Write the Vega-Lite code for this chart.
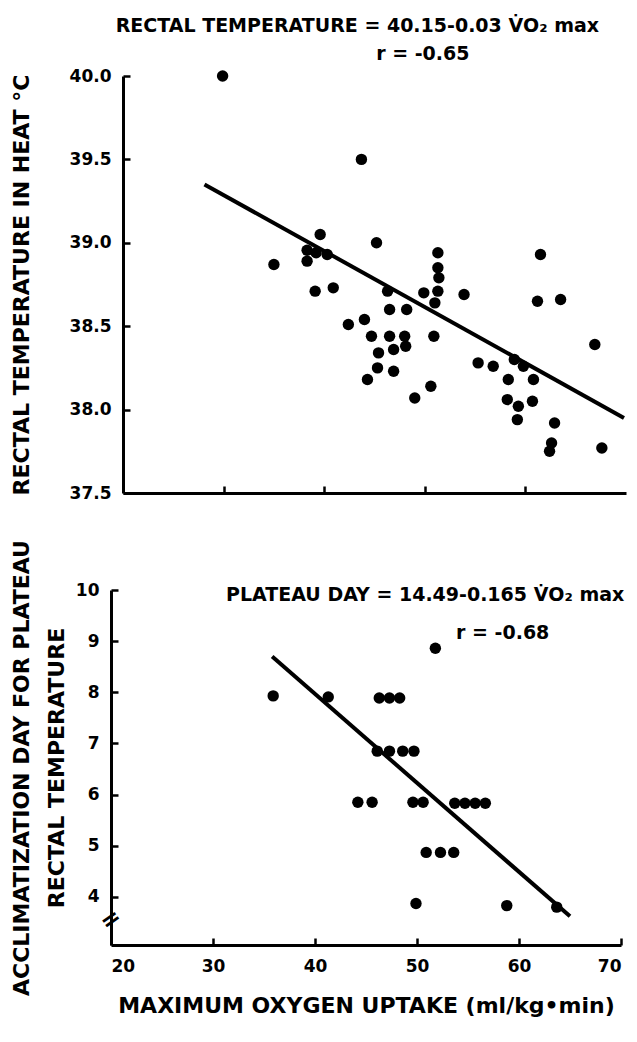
{
  "$schema": "https://vega.github.io/schema/vega-lite/v6.json",
  "padding": {"top": 16, "left": 9, "right": 5, "bottom": 5},
  "background": "white",
  "spacing": 38,
  "config": {
    "view": {"stroke": null},
    "font": "DejaVu Sans",
    "text": {"font": "DejaVu Sans", "fontWeight": "bold", "fontSize": 19, "color": "black", "align": "center", "baseline": "middle"},
    "axis": {
      "grid": false,
      "domainColor": "black",
      "domainWidth": 3,
      "tickColor": "black",
      "tickWidth": 2.5,
      "tickSize": -7,
      "labelColor": "black",
      "labelFont": "DejaVu Sans",
      "labelFontWeight": "bold",
      "labelFontSize": 17,
      "titleColor": "black",
      "titleFont": "DejaVu Sans",
      "titleFontWeight": "bold",
      "titleFontSize": 22
    }
  },
  "datasets": {
    "top": [
      {"vo2": 29.9, "temp": 40.0},
      {"vo2": 43.7, "temp": 39.5},
      {"vo2": 39.6, "temp": 39.05},
      {"vo2": 45.2, "temp": 39.0},
      {"vo2": 38.3, "temp": 38.955},
      {"vo2": 39.2, "temp": 38.94},
      {"vo2": 40.3, "temp": 38.93},
      {"vo2": 38.3, "temp": 38.89},
      {"vo2": 35.0, "temp": 38.87},
      {"vo2": 39.1, "temp": 38.71},
      {"vo2": 40.9, "temp": 38.73},
      {"vo2": 51.3, "temp": 38.94},
      {"vo2": 51.3, "temp": 38.85},
      {"vo2": 51.4, "temp": 38.79},
      {"vo2": 46.3, "temp": 38.71},
      {"vo2": 49.9, "temp": 38.7},
      {"vo2": 51.3, "temp": 38.71},
      {"vo2": 51.0, "temp": 38.64},
      {"vo2": 53.9, "temp": 38.69},
      {"vo2": 61.5, "temp": 38.93},
      {"vo2": 61.2, "temp": 38.65},
      {"vo2": 63.5, "temp": 38.66},
      {"vo2": 46.5, "temp": 38.6},
      {"vo2": 48.2, "temp": 38.6},
      {"vo2": 46.5, "temp": 38.44},
      {"vo2": 48.0, "temp": 38.44},
      {"vo2": 46.9, "temp": 38.36},
      {"vo2": 48.1, "temp": 38.38},
      {"vo2": 45.4, "temp": 38.34},
      {"vo2": 50.9, "temp": 38.44},
      {"vo2": 45.3, "temp": 38.25},
      {"vo2": 46.9, "temp": 38.23},
      {"vo2": 49.0, "temp": 38.07},
      {"vo2": 50.6, "temp": 38.14},
      {"vo2": 55.3, "temp": 38.28},
      {"vo2": 56.8, "temp": 38.26},
      {"vo2": 58.9, "temp": 38.3},
      {"vo2": 59.8, "temp": 38.26},
      {"vo2": 58.3, "temp": 38.18},
      {"vo2": 60.8, "temp": 38.18},
      {"vo2": 58.2, "temp": 38.06},
      {"vo2": 59.3, "temp": 38.02},
      {"vo2": 59.2, "temp": 37.94},
      {"vo2": 60.7, "temp": 38.05},
      {"vo2": 62.9, "temp": 37.92},
      {"vo2": 66.9, "temp": 38.39},
      {"vo2": 62.6, "temp": 37.8},
      {"vo2": 62.4, "temp": 37.75},
      {"vo2": 67.6, "temp": 37.77},
      {"vo2": 42.4, "temp": 38.51},
      {"vo2": 44.0, "temp": 38.54},
      {"vo2": 44.7, "temp": 38.44},
      {"vo2": 44.3, "temp": 38.18}
    ],
    "topFit": [
      {"vo2": 28.1, "temp": 39.35},
      {"vo2": 69.8, "temp": 37.95}
    ],
    "bottom": [
      {"vo2": 35.9, "day": 7.93},
      {"vo2": 41.3, "day": 7.91},
      {"vo2": 46.3, "day": 7.89},
      {"vo2": 47.3, "day": 7.89},
      {"vo2": 48.3, "day": 7.89},
      {"vo2": 51.8, "day": 8.86},
      {"vo2": 46.1, "day": 6.85},
      {"vo2": 47.3, "day": 6.85},
      {"vo2": 48.6, "day": 6.85},
      {"vo2": 49.7, "day": 6.85},
      {"vo2": 44.2, "day": 5.85},
      {"vo2": 45.6, "day": 5.85},
      {"vo2": 49.6, "day": 5.85},
      {"vo2": 50.6, "day": 5.85},
      {"vo2": 53.7, "day": 5.83},
      {"vo2": 54.7, "day": 5.83},
      {"vo2": 55.7, "day": 5.83},
      {"vo2": 56.7, "day": 5.83},
      {"vo2": 50.9, "day": 4.87},
      {"vo2": 52.3, "day": 4.87},
      {"vo2": 53.6, "day": 4.87},
      {"vo2": 49.9, "day": 3.87},
      {"vo2": 58.8, "day": 3.83},
      {"vo2": 63.7, "day": 3.8}
    ],
    "bottomFit": [
      {"vo2": 35.8, "day": 8.7},
      {"vo2": 65.0, "day": 3.62}
    ],
    "one": [{"k": 1}]
  },
  "vconcat": [
    {
      "width": 503,
      "height": 417,
      "layer": [
        {
          "data": {"name": "top"},
          "mark": {"type": "circle", "size": 130, "color": "black", "opacity": 1},
          "encoding": {
            "x": {
              "field": "vo2",
              "type": "quantitative",
              "scale": {"domain": [20, 70], "nice": false, "zero": false},
              "axis": {"values": [30, 40, 50, 60], "labels": false, "title": null}
            },
            "y": {
              "field": "temp",
              "type": "quantitative",
              "scale": {"domain": [37.5, 40], "nice": false, "zero": false},
              "axis": {
                "values": [37.5, 38, 38.5, 39, 39.5, 40],
                "format": ".1f",
                "labelPadding": 19,
                "title": "RECTAL TEMPERATURE IN HEAT °C",
                "titleX": -102,
                "titleBaseline": "middle"
              }
            }
          }
        },
        {
          "data": {"name": "topFit"},
          "mark": {"type": "line", "color": "black", "strokeWidth": 4},
          "encoding": {
            "x": {"field": "vo2", "type": "quantitative"},
            "y": {"field": "temp", "type": "quantitative"}
          }
        },
        {
          "data": {"name": "one"},
          "mark": {"type": "text"},
          "encoding": {
            "x": {"datum": 43.3, "type": "quantitative"},
            "y": {"datum": 40.3, "type": "quantitative"},
            "text": {"value": "RECTAL TEMPERATURE = 40.15-0.03 V̇O₂ max"}
          }
        },
        {
          "data": {"name": "one"},
          "mark": {"type": "text"},
          "encoding": {
            "x": {"datum": 49.8, "type": "quantitative"},
            "y": {"datum": 40.13, "type": "quantitative"},
            "text": {"value": "r = -0.65"}
          }
        }
      ]
    },
    {
      "width": 498,
      "height": 355,
      "layer": [
        {
          "data": {"name": "bottom"},
          "mark": {"type": "circle", "size": 130, "color": "black", "opacity": 1},
          "encoding": {
            "x": {
              "field": "vo2",
              "type": "quantitative",
              "scale": {"domain": [20, 70], "nice": false, "zero": false, "range": [-12, 498]},
              "axis": {
                "values": [20, 30, 40, 50, 60, 70],
                "labelPadding": 20,
                "title": "MAXIMUM OXYGEN UPTAKE (ml/kg•min)",
                "titleY": 60,
                "titleBaseline": "middle"
              }
            },
            "y": {
              "field": "day",
              "type": "quantitative",
              "scale": {"domain": [3.06, 10], "nice": false, "zero": false},
              "axis": {
                "values": [4, 5, 6, 7, 8, 9, 10],
                "offset": 12,
                "labelPadding": 19,
                "title": ["ACCLIMATIZATION DAY FOR PLATEAU", "RECTAL TEMPERATURE"],
                "titleLineHeight": 35,
                "titleX": -90,
                "titleBaseline": "middle"
              }
            }
          }
        },
        {
          "data": {"name": "bottomFit"},
          "mark": {"type": "line", "color": "black", "strokeWidth": 4},
          "encoding": {
            "x": {"field": "vo2", "type": "quantitative"},
            "y": {"field": "day", "type": "quantitative"}
          }
        },
        {
          "data": {"name": "one"},
          "mark": {"type": "text"},
          "encoding": {
            "x": {"datum": 50.8, "type": "quantitative"},
            "y": {"datum": 9.9, "type": "quantitative"},
            "text": {"value": "PLATEAU DAY = 14.49-0.165 V̇O₂ max"}
          }
        },
        {
          "data": {"name": "one"},
          "mark": {"type": "text"},
          "encoding": {
            "x": {"datum": 58.4, "type": "quantitative"},
            "y": {"datum": 9.16, "type": "quantitative"},
            "text": {"value": "r = -0.68"}
          }
        },
        {
          "data": {"name": "one"},
          "mark": {"type": "text", "fontSize": 24, "angle": 325},
          "encoding": {
            "x": {"datum": 20, "type": "quantitative"},
            "y": {"datum": 3.55, "type": "quantitative"},
            "text": {"value": "="}
          }
        }
      ]
    }
  ]
}
